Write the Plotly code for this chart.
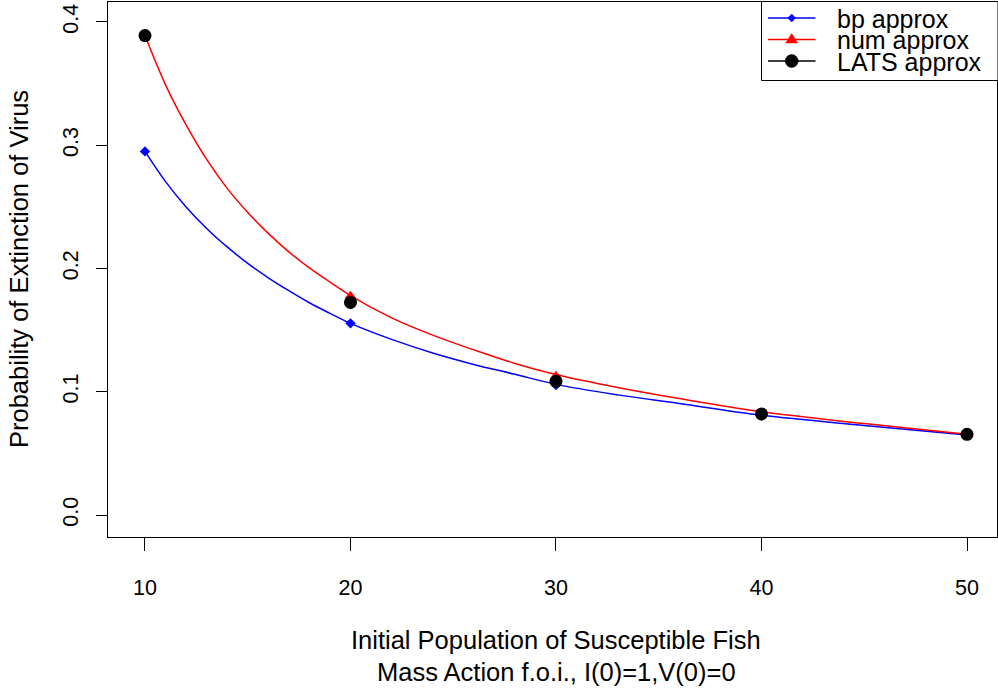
import plotly.graph_objects as go

# ---- data ----
x_points = [10, 20, 30, 40, 50]
bp_points = [0.295, 0.1555, 0.1055, 0.0805, 0.065]
num_points = [0.389, 0.178, 0.113, 0.083, 0.065]
lats_points = [0.389, 0.1725, 0.1085, 0.082, 0.0655]

# curves
x_curve = [10, 11, 12, 13, 14, 15, 16, 17, 18, 19, 20, 22, 24, 26, 28, 30, 33, 36, 40, 45, 50]
bp_curve = [0.295, 0.2705, 0.2500, 0.2325, 0.2175, 0.2042, 0.1925, 0.1820, 0.1722, 0.1636, 0.1555,
            0.1425, 0.1315, 0.1222, 0.1142, 0.1060, 0.0975, 0.0905, 0.0810, 0.0727, 0.0650]
num_curve = [0.389, 0.349, 0.3165, 0.2885, 0.265, 0.2455, 0.2285, 0.2135, 0.2005, 0.189, 0.178,
             0.160, 0.146, 0.134, 0.123, 0.114, 0.1035, 0.0945, 0.0838, 0.0742, 0.0655]

x_ticks = [10, 20, 30, 40, 50]
y_ticks = [0.0, 0.1, 0.2, 0.3, 0.4]
y_tick_labels = ["0.0", "0.1", "0.2", "0.3", "0.4"]
legend_labels = ["bp approx", "num approx", "LATS approx"]

FONT = "Liberation Sans, Arial, sans-serif"
TICK_SIZE = 21.5
LAB_SIZE = 25.5
LEG_SIZE = 25
W, H = 998, 691
L, R, T, B = 108, 1, 2, 154
PW, PH = W - L - R, H - T - B


def px(xp):
    return (xp - L) / PW


def py(yp):
    return (H - B - yp) / PH


fig = go.Figure()
fig.add_trace(go.Scatter(x=x_curve, y=bp_curve, mode="lines", showlegend=False,
                         line=dict(color="blue", width=1.5, shape="spline")))
fig.add_trace(go.Scatter(x=x_curve, y=num_curve, mode="lines", showlegend=False,
                         line=dict(color="red", width=1.5, shape="spline")))
fig.add_trace(go.Scatter(x=x_points, y=bp_points, mode="markers", name=legend_labels[0],
                         showlegend=False,
                         marker=dict(symbol="diamond", size=8, color="blue")))
fig.add_trace(go.Scatter(x=x_points, y=num_points, mode="markers", name=legend_labels[1],
                         showlegend=False,
                         marker=dict(symbol="triangle-up", size=10, color="red")))
fig.add_trace(go.Scatter(x=x_points, y=lats_points, mode="markers", name=legend_labels[2],
                         showlegend=False,
                         marker=dict(symbol="circle", size=13, color="black")))

shapes = []
annotations = []

# ---- manual legend (R style) ----
shapes.append(dict(type="rect", xref="paper", yref="paper",
                   x0=px(761.5), x1=px(998), y0=py(80.5), y1=py(1.5),
                   line=dict(color="black", width=1), fillcolor="white", layer="above"))
rows = [18.0, 39.5, 61.0]
colors = ["blue", "red", "black"]
for i, (ry, c) in enumerate(zip(rows, colors)):
    shapes.append(dict(type="line", xref="paper", yref="paper",
                       x0=px(768), x1=px(815.5), y0=py(ry), y1=py(ry),
                       line=dict(color=c, width=1.5), layer="above"))
    cx = 791.7
    if i == 0:
        r = 4
        path = (f"M {px(cx)},{py(ry - r)} L {px(cx + r)},{py(ry)} "
                f"L {px(cx)},{py(ry + r)} L {px(cx - r)},{py(ry)} Z")
        shapes.append(dict(type="path", xref="paper", yref="paper", path=path,
                           fillcolor=c, line=dict(color=c, width=0.5), layer="above"))
    elif i == 1:
        path = (f"M {px(cx)},{py(ry - 6)} L {px(cx + 6)},{py(ry + 3.5)} "
                f"L {px(cx - 6)},{py(ry + 3.5)} Z")
        shapes.append(dict(type="path", xref="paper", yref="paper", path=path,
                           fillcolor=c, line=dict(color=c, width=0.5), layer="above"))
    else:
        r = 6.5
        shapes.append(dict(type="circle", xref="paper", yref="paper",
                           x0=px(cx - r), x1=px(cx + r), y0=py(ry + r), y1=py(ry - r),
                           fillcolor=c, line=dict(color=c, width=0.5), layer="above"))
    annotations.append(dict(text=legend_labels[i], xref="paper", yref="paper",
                            x=px(835), y=py(ry + 1), xanchor="left", yanchor="middle",
                            showarrow=False, font=dict(size=LEG_SIZE, family=FONT, color="black")))

# ---- axis titles ----
annotations.append(dict(text="Initial Population of Susceptible Fish", xref="paper", yref="paper",
                        x=px(556), y=py(640), xanchor="center", yanchor="middle",
                        showarrow=False, font=dict(size=LAB_SIZE, family=FONT, color="black")))
annotations.append(dict(text="Mass Action f.o.i., I(0)=1,V(0)=0", xref="paper", yref="paper",
                        x=px(556), y=py(672), xanchor="center", yanchor="middle",
                        showarrow=False, font=dict(size=LAB_SIZE, family=FONT, color="black")))
annotations.append(dict(text="Probability of Extinction of Virus", xref="paper", yref="paper",
                        x=px(19), y=py(269), xanchor="center", yanchor="middle", textangle=-90,
                        showarrow=False, font=dict(size=LAB_SIZE, family=FONT, color="black")))

fig.update_layout(
    width=W, height=H,
    margin=dict(l=L, r=R, t=T, b=B),
    paper_bgcolor="white", plot_bgcolor="white",
    font=dict(family=FONT, size=TICK_SIZE, color="black"),
    showlegend=False, hovermode=False,
    shapes=shapes, annotations=annotations,
    xaxis=dict(range=[8.2, 51.46], tickvals=x_ticks, ticks="outside",
               ticklen=13, tickwidth=1, tickcolor="black", ticklabelstandoff=18,
               showline=True, linecolor="black", linewidth=1, mirror=True,
               showgrid=False, zeroline=False, automargin=False,
               tickfont=dict(size=TICK_SIZE)),
    yaxis=dict(range=[-0.0178, 0.4162], tickvals=y_ticks, ticktext=y_tick_labels,
               ticks="outside", ticklen=11, tickwidth=1, tickcolor="black",
               tickangle=-90, ticklabelstandoff=9,
               showline=True, linecolor="black", linewidth=1, mirror=True,
               showgrid=False, zeroline=False, automargin=False,
               tickfont=dict(size=TICK_SIZE)),
)

fig.write_html("out.html", config={"displayModeBar": False},
               post_script="document.body.style.margin='0px';document.body.style.padding='0px';")
